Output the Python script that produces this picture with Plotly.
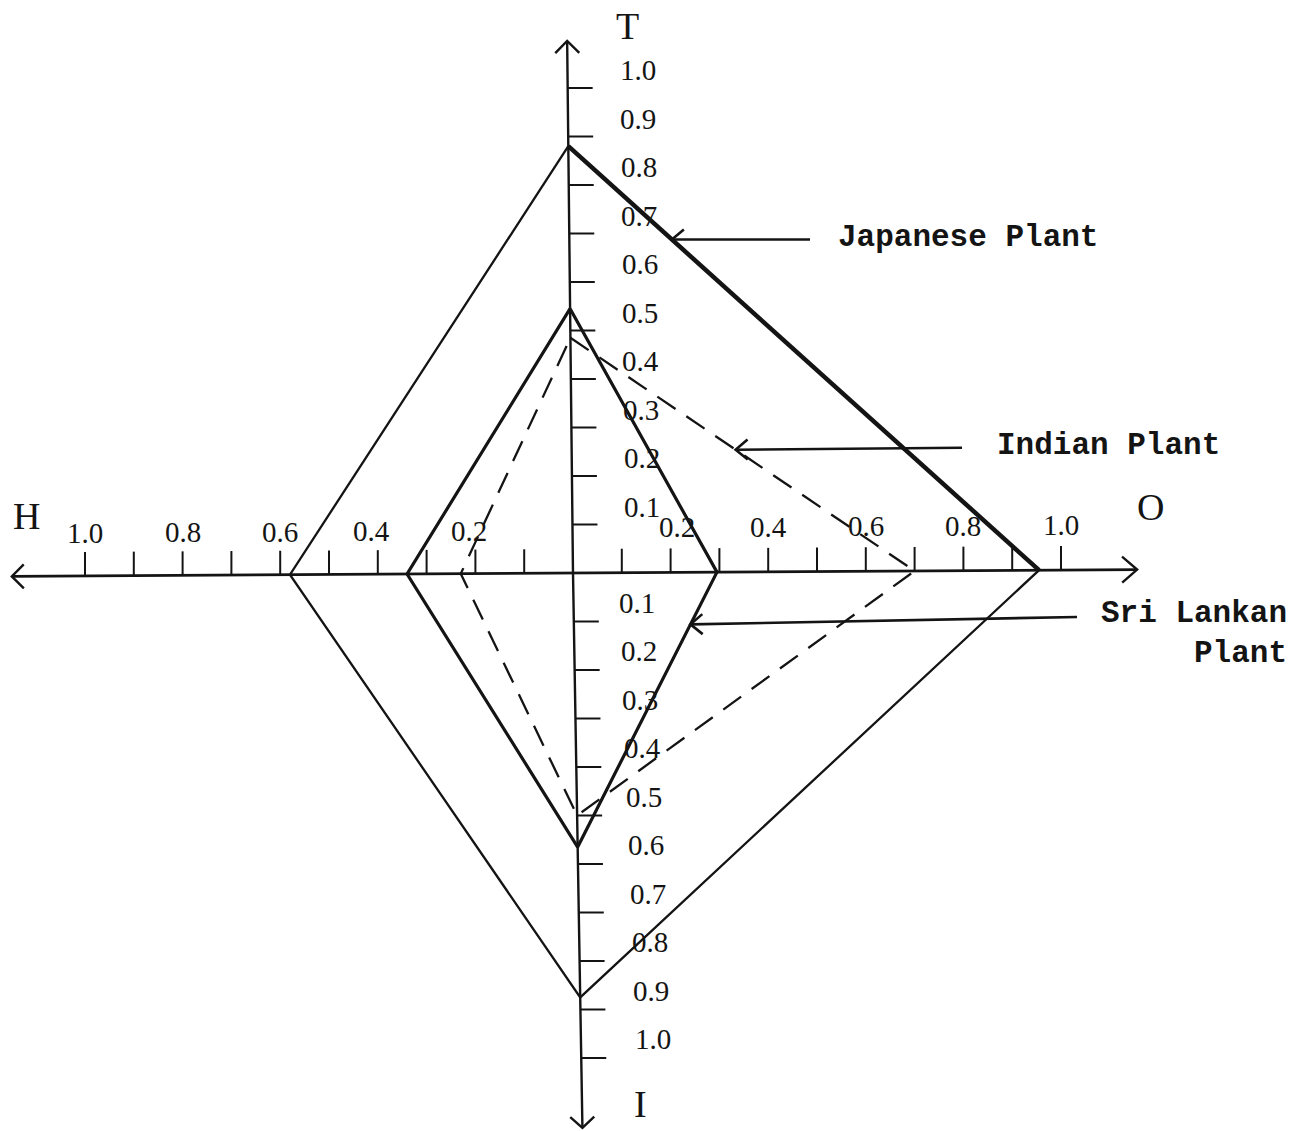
import math
import plotly.graph_objects as go

# ---------------- data ----------------
axis_names = ["T", "O", "I", "H"]
japanese = [0.88, 0.955, 0.875, 0.58]      # T, O, I, H
sri_lankan = [0.545, 0.295, 0.565, 0.34]
indian = [0.485, 0.70, 0.50, 0.23]

tick_values = [0.1, 0.2, 0.3, 0.4, 0.5, 0.6, 0.7, 0.8, 0.9, 1.0]
vertical_tick_labels = ["0.1", "0.2", "0.3", "0.4", "0.5", "0.6", "0.7", "0.8", "0.9", "1.0"]
horizontal_label_values = [0.2, 0.4, 0.6, 0.8, 1.0]
horizontal_tick_labels = ["0.2", "0.4", "0.6", "0.8", "1.0"]
axis_extent = {"T": 1.097, "O": 1.156, "I": 1.144, "H": 1.15}

series_names = ["Japanese Plant", "Indian Plant", "Sri Lankan Plant"]

# ---------------- geometry / layout ----------------
W, H = 1291, 1131
OX, OY = 573.0, 573.0          # origin in page pixels
SX, SY = 488.0, 485.0          # pixels per unit
K_T, K_I, K_H = 0.011, 0.017, 0.006   # slight skew of the hand-drawn axes
INK = "#141414"


def pt(axis, v):
    if axis == "T":
        return (-K_T * v * SY / SX, v)
    if axis == "I":
        return (K_I * v * SY / SX, -v)
    if axis == "O":
        return (v, K_H * v * SX / SY)
    return (-v, -K_H * v * SX / SY)


def to_px(p):
    return (OX + p[0] * SX, OY - p[1] * SY)


def to_data(q):
    return ((q[0] - OX) / SX, (OY - q[1]) / SY)


def chevron(tip, frm, back=13, half=12):
    tx, ty = to_px(tip)
    fx, fy = to_px(frm)
    dx, dy = tx - fx, ty - fy
    L = math.hypot(dx, dy)
    ux, uy = dx / L, dy / L
    nx, ny = -uy, ux
    a = to_data((tx - back * ux + half * nx, ty - back * uy + half * ny))
    b = to_data((tx - back * ux - half * nx, ty - back * uy - half * ny))
    return [a, tip, b]


def lerp(p, q, t):
    return (p[0] + (q[0] - p[0]) * t, p[1] + (q[1] - p[1]) * t)


def polygon(values):
    pts = [pt(a, v) for a, v in zip(axis_names, values)]
    pts.append(pts[0])
    return pts


fig = go.Figure()


def add_line(points, width=2.2, dash="solid"):
    xs, ys = [], []
    for p in points:
        if p is None:
            xs.append(None)
            ys.append(None)
        else:
            xs.append(p[0])
            ys.append(p[1])
    fig.add_trace(go.Scatter(x=xs, y=ys, mode="lines",
                             line=dict(color=INK, width=width, dash=dash),
                             hoverinfo="skip", showlegend=False))


# axes
h_end, o_end = pt("H", axis_extent["H"]), pt("O", axis_extent["O"])
t_end, i_end = pt("T", axis_extent["T"]), pt("I", axis_extent["I"])
add_line([h_end, (0, 0), o_end], width=2.6)
add_line([t_end, (0, 0), i_end], width=2.4)
add_line(chevron(h_end, (0, 0), 12, 12) + [None] + chevron(o_end, (0, 0), 15, 13) + [None]
         + chevron(t_end, (0, 0), 12, 12) + [None] + chevron(i_end, (0, 0), 11, 12), width=2.4)

# ticks
tick_pts = []
for v in tick_values:
    for a in ["H", "O"]:
        p = pt(a, v)
        tick_pts += [p, (p[0], p[1] + 24 / SY), None]
    for a in ["T", "I"]:
        p = pt(a, v)
        tick_pts += [p, (p[0] + 25 / SX, p[1]), None]
add_line(tick_pts, width=2.0)

# series polygons
jp = polygon(japanese)
sl = polygon(sri_lankan)
ind = polygon(indian)
add_line(jp, width=2.3)
add_line(jp[0:2], width=4.5)               # heavier T-O edge
add_line(sl, width=3.2)
add_line(ind, width=2.3, dash="22px,13px")

# pointer arrows to the series
ann = []
jp_head = lerp(jp[0], jp[1], 0.22)
jp_tail = (to_data((810, 0))[0], jp_head[1])
ind_head = lerp(ind[0], ind[1], 0.48)
ind_tail = (to_data((962, 0))[0], ind_head[1] + 2 / SY)
sl_head = lerp(sl[1], sl[2], 0.19)
sl_tail = to_data((1077, 617))
for head, tail in [(jp_head, jp_tail), (ind_head, ind_tail), (sl_head, sl_tail)]:
    add_line([tail, head], width=2.6)
    add_line(chevron(head, tail, 12, 10), width=2.6)

mono = dict(family="Liberation Mono, Courier New, monospace", size=31, color=INK)
serif = dict(family="Liberation Serif, Times New Roman, serif", size=29, color=INK)
letter = dict(family="Liberation Serif, Times New Roman, serif", size=38, color=INK)

ann.append(dict(x=to_data((836, 0))[0], y=jp_head[1] + 2 / SY, text="<b>" + series_names[0] + "</b>",
                xanchor="left", yanchor="middle", font=mono))
ann.append(dict(x=to_data((995, 0))[0], y=ind_head[1] + 4 / SY, text="<b>" + series_names[1] + "</b>",
                xanchor="left", yanchor="middle", font=mono))
ann.append(dict(x=to_data((1289, 0))[0], y=to_data((0, 633))[1], text="<b>Sri Lankan<br>Plant</b>",
                xanchor="right", yanchor="middle", align="right", font=mono))

# tick labels
for v, lab in zip(tick_values, vertical_tick_labels):
    p = pt("T", v)
    ann.append(dict(x=p[0] + 70 / SX, y=p[1] + 18 / SY, text=lab, xanchor="center", yanchor="middle", font=serif))
    p = pt("I", v)
    ann.append(dict(x=p[0] + (62 + 10 * v) / SX, y=p[1] + 19 / SY, text=lab, xanchor="center", yanchor="middle", font=serif))
for v, lab in zip(horizontal_label_values, horizontal_tick_labels):
    p = pt("O", v)
    ann.append(dict(x=p[0] + (6 if v < 0.3 else 0) / SX, y=p[1] + 45 / SY, text=lab,
                    xanchor="center", yanchor="middle", font=serif))
    p = pt("H", v)
    ann.append(dict(x=p[0] - (6 if v < 0.5 else 0) / SX, y=p[1] + 43 / SY, text=lab,
                    xanchor="center", yanchor="middle", font=serif))

# axis letters
for name, q in zip(axis_names, [(627, 26), (1150, 507), (640, 1104), (26, 516)]):
    d = to_data(q)
    ann.append(dict(x=d[0], y=d[1], text=name, xanchor="center", yanchor="middle", font=letter))

for a in ann:
    a.update(xref="x", yref="y", showarrow=False)

fig.update_layout(
    width=W, height=H,
    margin=dict(l=0, r=0, t=0, b=0),
    paper_bgcolor="white", plot_bgcolor="white",
    xaxis=dict(range=[-OX / SX, (W - OX) / SX], visible=False, fixedrange=True),
    yaxis=dict(range=[(OY - H) / SY, OY / SY], visible=False, fixedrange=True),
    annotations=ann,
    showlegend=False,
)

fig.write_html("out.html", config={"displayModeBar": False},
               post_script="document.body.style.margin='0';document.body.style.overflow='hidden';")
